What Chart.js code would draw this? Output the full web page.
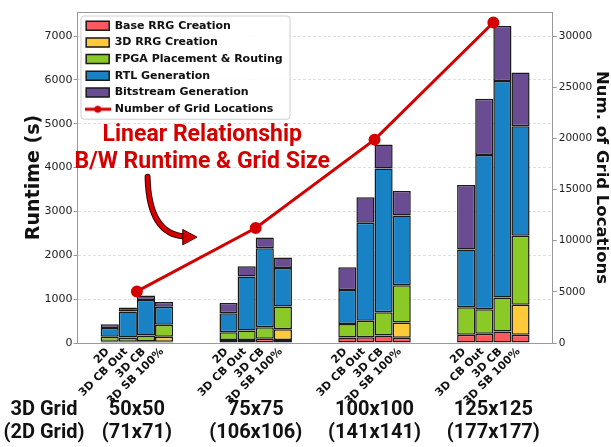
<!DOCTYPE html>
<html>
<head>
<meta charset="utf-8">
<script src="https://cdn.jsdelivr.net/npm/chart.js@4.4.0/dist/chart.umd.min.js"></script>
<style>
  html, body { margin: 0; padding: 0; background: #fff; }
  #wrap { width: 611px; height: 447px; }
</style>
</head>
<body>
<div id="wrap"><canvas id="runtimeChart" width="611" height="447"></canvas></div>
<script>
// grid sizes: 3D grid on first line, equivalent 2D grid on second
const gridSizes = ['50x50', '75x75', '100x100', '125x125'];
const gridSizes2d = ['(71x71)', '(106x106)', '(141x141)', '(177x177)'];
const configs = ['2D', '3D CB Out', '3D CB', '3D SB 100%'];

// runtime in seconds, one row per config, one value per grid size
const baseRrg    = [[30, 70, 126, 188], [30, 70, 133, 211], [40, 96, 172, 264], [30, 70, 119, 188]];
const rrg3d      = [null, null, null, [110, 246, 351, 687]];
const placeRoute = [[110, 177, 305, 625], [95, 216, 376, 557], [130, 266, 527, 772], [275, 514, 848, 1572]];
const rtlGen     = [[200, 429, 779, 1322], [595, 1230, 2236, 3522], [810, 1797, 3284, 4940], [413, 881, 1588, 2498]];
const bitGen     = [[90, 236, 520, 1467], [90, 236, 582, 1283], [105, 247, 543, 1254], [105, 241, 559, 1224]];

const gridLocations = [5041, 11236, 19881, 31329];

const runtimeTicks = [0, 1000, 2000, 3000, 4000, 5000, 6000, 7000];
const locationTicks = [0, 5000, 10000, 15000, 20000, 25000, 30000];
const runtimeMax = 7550;
const locationMax = runtimeMax * 30000 / 7000;

const components = [
  { label: 'Base RRG Creation', values: baseRrg, color: '#ff595e' },
  { label: '3D RRG Creation', values: rrg3d, color: '#ffca3a' },
  { label: 'FPGA Placement & Routing', values: placeRoute, color: '#8ac926' },
  { label: 'RTL Generation', values: rtlGen, color: '#1982c4' },
  { label: 'Bitstream Generation', values: bitGen, color: '#6a4c93' }
];

const RED = '#d40000';
const EDGE = '#1a1a1a';
const dejavu = '"DejaVu Sans", sans-serif';

const datasets = [{
  type: 'line', label: 'Number of Grid Locations', data: gridLocations, yAxisID: 'y1',
  borderColor: RED, backgroundColor: RED, borderWidth: 3, pointRadius: 4.5, pointHoverRadius: 4.5, order: 0
}];
components.forEach(c => {
  configs.forEach((cfg, s) => {
    if (!c.values[s]) return;
    datasets.push({
      type: 'bar', label: c.label, stack: cfg, data: c.values[s], yAxisID: 'y',
      backgroundColor: c.color, borderColor: EDGE, borderWidth: 1.5, borderSkipped: false,
      barPercentage: 1, categoryPercentage: 0.61, order: 1
    });
  });
});

// legend icon for the line series: line with a dot
const lineIcon = document.createElement('canvas');
lineIcon.width = 26; lineIcon.height = 10;
(function(){
  const g = lineIcon.getContext('2d');
  g.strokeStyle = RED; g.lineWidth = 3;
  g.beginPath(); g.moveTo(0, 5); g.lineTo(26, 5); g.stroke();
  g.fillStyle = RED; g.beginPath(); g.arc(13, 5, 3.5, 0, Math.PI * 2); g.fill();
})();

const legendFrame = {
  id: 'legendFrame',
  afterLayout(chart) {
    chart.legend.left = chart.chartArea.left + 3;
    chart.legend.top = chart.chartArea.top + 2.5;
  },
  beforeDatasetsDraw(chart) {
    const lg = chart.legend, ctx = chart.ctx;
    const n = lg.legendItems.length;
    ctx.save();
    ctx.fillStyle = 'rgba(255,255,255,0.9)';
    ctx.strokeStyle = '#d0d0d0';
    ctx.lineWidth = 1;
    ctx.beginPath();
    ctx.roundRect(lg.left + 0.5, lg.top + 1.5, 209, n * 16.7 + 3, 3);
    ctx.fill(); ctx.stroke();
    ctx.restore();
    lg.draw();
  }
};

const extras = {
  id: 'extras',
  afterDraw(chart) {
    const ctx = chart.ctx, area = chart.chartArea;
    const xs = chart.scales.x, ys = chart.scales.y;
    ctx.save();
    // top frame line
    ctx.strokeStyle = '#999'; ctx.lineWidth = 1;
    ctx.beginPath(); ctx.moveTo(area.left, area.top + 0.5); ctx.lineTo(area.right, area.top + 0.5); ctx.stroke();

    // per-bar config labels
    ctx.font = 'bold 11px ' + dejavu;
    ctx.fillStyle = '#111';
    ctx.textAlign = 'right';
    ctx.textBaseline = 'middle';
    configs.forEach(cfg => {
      const idx = chart.data.datasets.findIndex(d => d.stack === cfg);
      chart.getDatasetMeta(idx).data.forEach(bar => {
        ctx.save();
        ctx.translate(bar.x - 2, area.bottom + 7);
        ctx.rotate(-Math.PI / 4);
        ctx.fillText(cfg, 0, 0);
        ctx.restore();
      });
    });

    // grid size labels under each group
    ctx.font = 'bold 20px Roboto, sans-serif';
    ctx.textAlign = 'center';
    ctx.textBaseline = 'middle';
    ctx.fillStyle = '#111';
    gridSizes.forEach((g, i) => {
      const x = xs.getPixelForValue(i);
      ctx.fillText(g, x, 410);
      ctx.fillText(gridSizes2d[i], x, 433);
    });
    ctx.fillText('3D Grid', 44, 410);
    ctx.fillText('(2D Grid)', 44, 433);

    // annotation
    ctx.font = 'bold 23px Roboto, sans-serif';
    ctx.fillStyle = RED;
    const tx = xs.getPixelForValue(0.55);
    ctx.fillText('Linear Relationship', tx, ys.getPixelForValue(4730));
    ctx.fillText('B/W Runtime & Grid Size', tx, ys.getPixelForValue(4130));

    // curved arrow
    const sx = xs.getPixelForValue(0.09), sy = ys.getPixelForValue(3790);
    const cx = xs.getPixelForValue(0.1), cy = ys.getPixelForValue(2480);
    const ex = xs.getPixelForValue(0.47), ey = ys.getPixelForValue(2430);
    ctx.lineCap = 'round';
    ctx.strokeStyle = '#3a0000'; ctx.lineWidth = 6;
    ctx.beginPath(); ctx.moveTo(sx, sy); ctx.quadraticCurveTo(cx, cy, ex - 8, ey); ctx.stroke();
    ctx.strokeStyle = RED; ctx.lineWidth = 4;
    ctx.beginPath(); ctx.moveTo(sx, sy); ctx.quadraticCurveTo(cx, cy, ex - 8, ey); ctx.stroke();
    ctx.fillStyle = RED; ctx.strokeStyle = '#3a0000'; ctx.lineWidth = 1;
    ctx.beginPath();
    ctx.moveTo(ex + 4, ey + 0.5);
    ctx.lineTo(ex - 10, ey - 7);
    ctx.lineTo(ex - 10, ey + 8);
    ctx.closePath(); ctx.fill(); ctx.stroke();
    ctx.restore();
  }
};

new Chart(document.getElementById('runtimeChart').getContext('2d'), {
  data: { labels: gridSizes, datasets },
  options: {
    responsive: false,
    animation: false,
    layout: { padding: { left: 20.5, right: 2, top: 12, bottom: 96 } },
    plugins: {
      tooltip: { enabled: false },
      legend: {
        position: 'chartArea',
        align: 'start',
        labels: {
          font: { family: 'DejaVu Sans', size: 11, weight: 'bold' },
          color: '#111',
          usePointStyle: true,
          pointStyleWidth: 23,
          boxHeight: 9,
          padding: 5.7,
          generateLabels(chart) {
            const items = Chart.defaults.plugins.legend.labels.generateLabels(chart);
            const seen = new Set();
            const out = [];
            let lineItem = null;
            items.forEach(it => {
              const ds = chart.data.datasets[it.datasetIndex];
              if (ds.type === 'line') {
                lineItem = Object.assign(it, { pointStyle: lineIcon, lineWidth: 0 });
                return;
              }
              if (seen.has(it.text)) return;
              seen.add(it.text);
              out.push(Object.assign(it, { pointStyle: 'rect', lineWidth: 1.5, strokeStyle: EDGE }));
            });
            if (lineItem) out.push(lineItem);
            return out;
          }
        }
      }
    },
    scales: {
      x: {
        stacked: true,
        grid: { display: false },
        border: { color: '#999' },
        ticks: { display: false }
      },
      y: {
        position: 'left', stacked: true, min: 0, max: runtimeMax,
        afterBuildTicks: s => { s.ticks = runtimeTicks.map(v => ({ value: v })); },
        grid: { color: '#d8d8d8', lineWidth: 0.8, tickLength: 4, tickColor: '#999', tickWidth: 1, tickBorderDash: [] },
        border: { color: '#999', dash: [3, 2] },
        ticks: { padding: 1, color: '#222', font: { family: 'DejaVu Sans', size: 11 }, callback: v => String(v) },
        title: { display: true, text: 'Runtime (s)', color: '#111', padding: { top: 4, bottom: 0 },
                 font: { family: 'DejaVu Sans', size: 19, weight: 'bold', lineHeight: 1 } }
      },
      y1: {
        position: 'right', min: 0, max: locationMax,
        afterBuildTicks: s => { s.ticks = locationTicks.map(v => ({ value: v })); },
        grid: { drawOnChartArea: false, tickLength: 4, tickColor: '#999', tickWidth: 1 },
        border: { color: '#999' },
        ticks: { padding: 2, color: '#222', font: { family: 'DejaVu Sans', size: 10.5 }, callback: v => String(v) },
        title: { display: true, text: 'Num. of Grid Locations', color: '#111', padding: { top: 0, bottom: 0 },
                 font: { family: 'DejaVu Sans', size: 16.5, weight: 'bold', lineHeight: 0.9 } }
      }
    }
  },
  plugins: [legendFrame, extras]
});
</script>
</body>
</html>
